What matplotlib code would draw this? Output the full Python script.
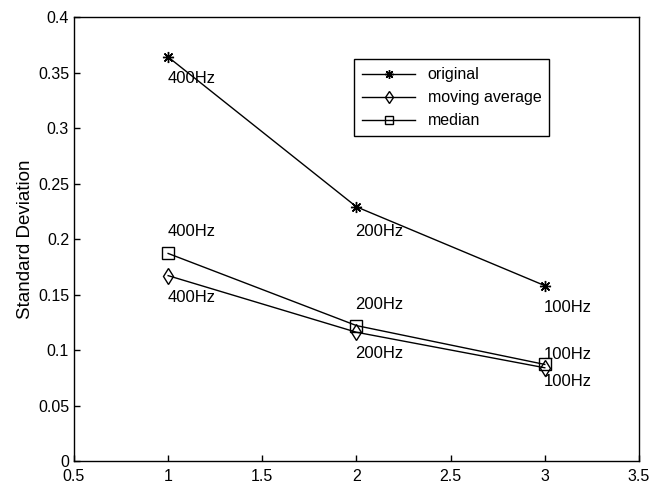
import matplotlib
matplotlib.use("Agg")
import matplotlib.pyplot as plt

# sampling index and std values per filter
x = [1, 2, 3]
original = [0.364, 0.229, 0.158]
moving_avg = [0.167, 0.116, 0.084]
median = [0.187, 0.122, 0.087]

freq_labels = ["400Hz", "200Hz", "100Hz"]
# label heights (data units) for each series
orig_label_y = [0.345, 0.207, 0.138]
ma_label_y = [0.1477, 0.0973, 0.072]
med_label_y = [0.207, 0.1414, 0.0964]

plt.rcParams['font.family'] = ['Liberation Sans', 'DejaVu Sans']

fig = plt.figure(figsize=(6.5, 4.87), dpi=100)
ax = fig.add_axes([0.1138, 0.0534, 0.8692, 0.9116])

asterisk = (8, 2, 0)
ax.plot(x, original, color='black', lw=1, marker=asterisk, ms=8, mew=1,
        label='original')
ax.plot(x, moving_avg, color='black', lw=1, marker='d', ms=8, mfc='none',
        mew=1, label='moving average')
ax.plot(x, median, color='black', lw=1, marker='s', ms=8, mfc='none',
        mew=1, label='median')

for xi, lab, y1, y2, y3 in zip(x, freq_labels, orig_label_y, ma_label_y, med_label_y):
    for yy in (y1, y2, y3):
        ax.text(xi - 0.005, yy, lab, ha='left', va='center', fontsize=12)

ax.set_xlim(0.5, 3.5)
ax.set_ylim(0, 0.4)
ax.set_xticks([0.5, 1, 1.5, 2, 2.5, 3, 3.5])
ax.set_xticklabels(['0.5', '1', '1.5', '2', '2.5', '3', '3.5'])
ax.set_yticks([0, 0.05, 0.1, 0.15, 0.2, 0.25, 0.3, 0.35, 0.4])
ax.set_yticklabels(['0', '0.05', '0.1', '0.15', '0.2', '0.25', '0.3', '0.35', '0.4'])
ax.tick_params(direction='in', length=4, labelsize=11.5, width=1)
ax.tick_params(axis='x', pad=6)
ax.set_ylabel('Standard Deviation', fontsize=13.5, labelpad=3)
for sp in ax.spines.values():
    sp.set_linewidth(1)

leg = ax.legend(loc='upper left', bbox_to_anchor=(0.496, 0.905),
                borderaxespad=0, fancybox=False, edgecolor='black',
                fontsize=11.5, handlelength=3.3, labelspacing=0.5,
                borderpad=0.5, markerscale=0.8, framealpha=1)
leg.get_frame().set_linewidth(1)

fig.savefig('out.png', dpi=100)
